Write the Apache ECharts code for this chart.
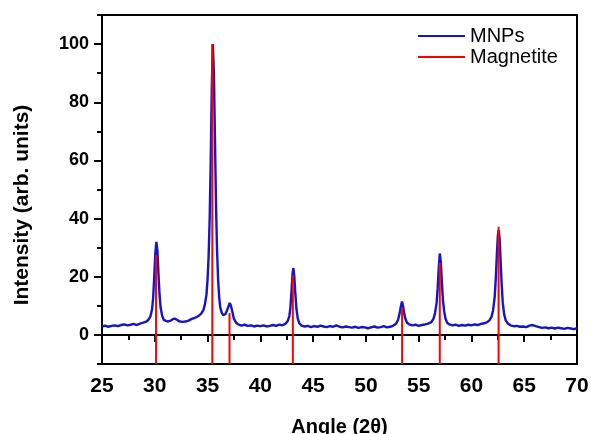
<!DOCTYPE html>
<html>
<head>
<meta charset="utf-8">
<script src="https://cdn.jsdelivr.net/npm/echarts@6/dist/echarts.min.js"></script>
<style>html,body{margin:0;padding:0;background:#fff}#c{width:591px;height:434px}</style>
</head>
<body>
<div id="c"></div>
<script>
// MNPs XRD pattern: [2theta, intensity]
var mnpsAngle = [25.0,25.3,25.6,25.9,26.2,26.5,26.8,27.1,27.4,27.7,28.0,28.3,28.6,28.9,29.2,29.4,29.6,29.75,29.85,29.95,30.05,30.15,30.25,30.35,30.45,30.55,30.7,30.85,31.0,31.2,31.5,31.7,31.9,32.1,32.3,32.6,32.9,33.2,33.5,33.8,34.0,34.2,34.4,34.6,34.75,34.9,35.0,35.1,35.2,35.3,35.4,35.5,35.6,35.7,35.8,35.9,36.0,36.1,36.2,36.35,36.5,36.7,36.85,37.0,37.1,37.2,37.35,37.5,37.7,37.9,38.2,38.5,38.8,39.1,39.4,39.7,40.0,40.3,40.6,40.9,41.2,41.5,41.8,42.1,42.4,42.6,42.75,42.85,42.95,43.05,43.13,43.22,43.32,43.42,43.55,43.7,43.9,44.2,44.5,44.8,45.1,45.4,45.7,46.0,46.3,46.6,46.9,47.2,47.5,47.8,48.1,48.4,48.7,49.0,49.3,49.6,49.9,50.2,50.5,50.8,51.1,51.4,51.7,52.0,52.3,52.6,52.85,53.05,53.2,53.3,53.42,53.52,53.62,53.75,53.9,54.1,54.4,54.7,55.0,55.3,55.6,55.9,56.2,56.4,56.55,56.7,56.8,56.9,57.0,57.1,57.2,57.3,57.42,57.55,57.7,57.9,58.2,58.5,58.8,59.1,59.4,59.7,60.0,60.3,60.6,60.9,61.2,61.5,61.7,61.9,62.05,62.2,62.3,62.4,62.5,62.58,62.67,62.77,62.87,62.97,63.1,63.25,63.45,63.7,64.0,64.3,64.6,64.9,65.2,65.5,65.8,66.1,66.4,66.7,67.0,67.3,67.6,67.9,68.2,68.5,68.8,69.1,69.4,69.7,70.0];
var mnpsIntensity = [2.9,3.2,2.8,3.1,3.3,3.0,3.4,3.6,3.3,3.5,3.8,3.4,3.9,4.2,4.6,5.2,6.5,9,13,20,28,32,29,21,14,9.5,6.5,5.2,4.8,4.6,4.9,5.4,5.6,5.2,4.7,4.5,4.6,4.9,5.5,5.9,6.2,6.7,7.3,8.5,10.5,14,19,27,40,60,85,100,90,68,45,29,19,13,9.5,7.5,6.8,7.2,8.5,10,11,10.2,8,5.5,4.2,3.6,3.2,3.5,3.1,3.3,2.9,3.2,3.0,3.3,2.9,3.1,3.4,3.1,3.5,3.3,3.9,4.8,6.5,9.5,15,21,23,20,14,9,5.5,4.0,3.2,2.9,3.1,2.7,3.0,2.8,3.2,2.9,2.7,3.0,2.8,3.3,2.8,2.6,2.9,2.7,2.5,2.8,2.4,2.7,2.6,2.3,2.6,2.9,2.5,2.7,3.0,2.6,2.8,3.2,3.8,5.2,7.5,9.5,11.5,10,7.5,5.5,4.2,3.6,3.3,3.5,3.1,3.4,3.6,3.9,4.4,5.5,7.5,11,16,23,28,25,18,12,8,5.5,4.2,3.6,3.3,3.5,3.1,3.4,3.2,3.5,3.3,3.6,3.4,3.8,4.0,4.4,5.0,6.2,8.5,13,19,27,34,36,33,25,17,11,7,5,3.9,3.3,3.0,3.1,2.8,2.9,2.7,3.2,3.4,3.0,2.7,2.4,2.6,2.3,2.5,2.2,2.5,2.3,2.1,2.4,2.2,2.0,2.3];
// Magnetite reference sticks
var magAngle = [30.12, 35.45, 37.08, 43.08, 53.43, 57.0, 62.57];
var magIntensity = [27.5, 100, 7.5, 20.5, 9.3, 24.8, 37.2];
// tick labels
var yLabelValues = [0, 20, 40, 60, 80, 100];

var FONT = 'Arial, "Liberation Sans", sans-serif';
var mnpsData = mnpsAngle.map(function (a, i) { return [a, mnpsIntensity[i]]; });
var magData = magAngle.map(function (a, i) { return [a, magIntensity[i]]; });

var chart = echarts.init(document.getElementById('c'), null, {renderer: 'canvas'});
chart.setOption({
  animation: false,
  backgroundColor: '#fff',
  grid: {left: 102, right: 14, top: 15, bottom: 70, outerBoundsMode: 'none', containLabel: false,
         show: true, borderColor: '#000', borderWidth: 2, backgroundColor: 'transparent'},
  legend: {
    orient: 'vertical', left: 418, top: 26, padding: 0, itemWidth: 47, itemHeight: 2, itemGap: 1, icon: 'rect',
    textStyle: {fontFamily: FONT, fontSize: 20, color: '#000'},
    data: [{name: 'MNPs', itemStyle: {color: '#1414c8'}}, {name: 'Magnetite', itemStyle: {color: '#ff0000'}}]
  },
  xAxis: {
    type: 'value', min: 25, max: 70, interval: 5,
    name: 'Angle (2θ)', nameLocation: 'middle', nameGap: 53,
    nameTextStyle: {fontFamily: FONT, fontSize: 20, fontWeight: 'bold', color: '#000'},
    axisLine: {lineStyle: {color: '#000', width: 2}},
    axisTick: {length: 7, lineStyle: {color: '#000', width: 2}},
    minorTick: {show: true, splitNumber: 2, length: 5, lineStyle: {color: '#000', width: 2}},
    axisLabel: {margin: 12, fontFamily: FONT, fontSize: 21, fontWeight: 'bold', color: '#000'},
    splitLine: {show: false}
  },
  yAxis: [{
    type: 'value', min: -10, max: 110,
    axisLine: {lineStyle: {color: '#000', width: 2}},
    axisTick: {length: 8, customValues: yLabelValues, lineStyle: {color: '#000', width: 2}},
    axisLabel: {margin: 13, customValues: yLabelValues, fontFamily: FONT, fontSize: 18, fontWeight: 'bold', color: '#000'},
    splitLine: {show: false}
  }, {
    type: 'value', min: -10, max: 110, interval: 10, position: 'left',
    axisLine: {show: false},
    axisTick: {length: 5, lineStyle: {color: '#000', width: 2}},
    axisLabel: {show: false},
    splitLine: {show: false}
  }],
  graphic: [{
    type: 'text', x: 22, y: 205, rotation: Math.PI / 2,
    style: {text: 'Intensity (arb. units)', align: 'center', verticalAlign: 'middle',
            fontFamily: FONT, fontSize: 21, fontWeight: 'bold', fill: '#000'}
  }],
  series: [{
    name: 'MNPs', type: 'line', data: mnpsData, showSymbol: false, symbol: 'none',
    lineStyle: {color: '#1414c8', width: 2.4}, itemStyle: {color: '#1414c8'}, z: 2
  }, {
    name: 'Magnetite', type: 'custom', data: magData, z: 3,
    itemStyle: {color: '#ff0000'},
    renderItem: function (params, api) {
      var p0 = api.coord([api.value(0), -10]);
      var p1 = api.coord([api.value(0), api.value(1)]);
      return {type: 'line', shape: {x1: p0[0], y1: p0[1], x2: p1[0], y2: p1[1]}, style: {stroke: '#ff0000', lineWidth: 2}};
    }
  }]
});
</script>
</body>
</html>
